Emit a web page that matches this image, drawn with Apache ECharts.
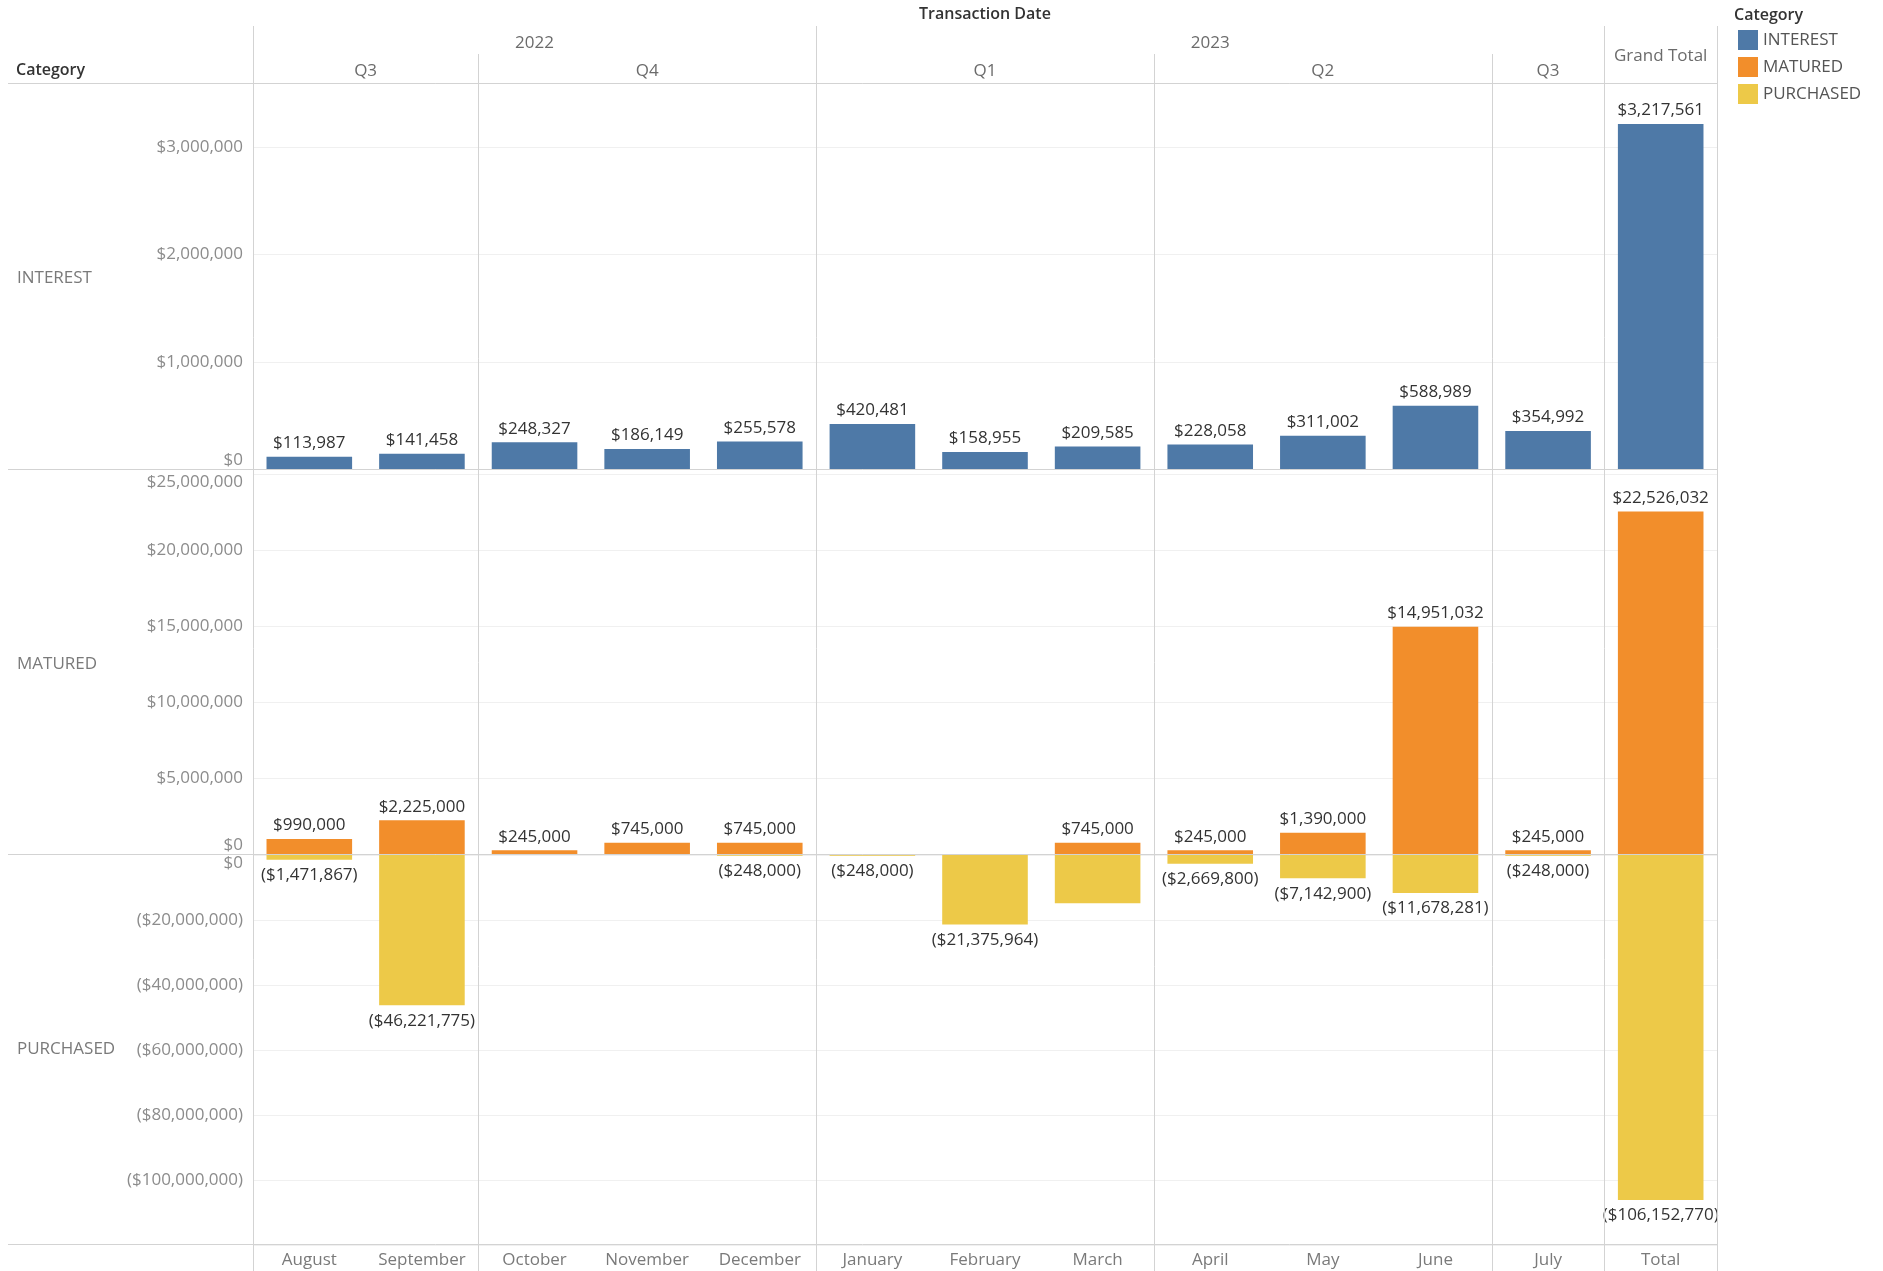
<!DOCTYPE html>
<html><head><meta charset="utf-8">
<script src="https://cdn.jsdelivr.net/npm/echarts@6/dist/echarts.min.js"></script>
<style>html,body{margin:0;padding:0;background:#fff}#c{width:1883px;height:1271px}</style>
</head><body><div id="c"></div>
<script>
// ---------- data ----------
const months = ['August','September','October','November','December','January','February','March','April','May','June','July','Total'];
const yearLabels = ['2022','2023'];
const yearSpans = [5,7];
const quarterLabels = ['Q3','Q4','Q1','Q2','Q3'];
const quarterSpans = [2,3,3,3,1];
const categories = ['INTEREST','MATURED','PURCHASED'];
const interest = [113987,141458,248327,186149,255578,420481,158955,209585,228058,311002,588989,354992,3217561];
const matured = [990000,2225000,245000,745000,745000,null,null,745000,245000,1390000,14951032,245000,22526032];
const purchased = [-1471867,-46221775,null,null,-248000,-248000,-21375964,-14848183,-2669800,-7142900,-11678281,-248000,-106152770];
const purchasedUnlabeled = ['March'];

// ---------- style / layout ----------
const FONT = '"Open Sans", "Noto Sans", sans-serif';
const COLORS = ['#4e79a7','#f28e2b','#edc948'];
const PL = 253, PR = 1717, W = PR - PL;
const panes = [ {top:83, h:386}, {top:474, h:380}, {top:855, h:390} ];
const lineCol = '#d3d3d3';
const FS = 17;

function money(v){
  if (v == null) return '';
  const s = '$' + String(Math.abs(Math.round(v))).replace(/\B(?=(\d{3})+(?!\d))/g, ',');
  return v < 0 ? '(' + s + ')' : s;
}

const chart = echarts.init(document.getElementById('c'), null, {renderer:'canvas'});

const grids = panes.map(p => ({left:PL, width:W, top:p.top, height:p.h, containLabel:false}));
const xAxes = panes.map((p,i) => ({
  type:'category', gridIndex:i, data:months, boundaryGap:true,
  axisLine:{show:false}, axisTick:{show:false}, splitLine:{show:false},
  axisLabel:{show:i===2, color:'#7a7a7a', fontSize:FS, fontFamily:FONT, margin:7, interval:0}
}));
const yBase = {
  type:'value', axisLine:{show:false}, axisTick:{show:false},
  splitLine:{show:true, lineStyle:{color:'#f0f0f0', width:1}},
  axisLabel:{color:'#8c8c8c', fontSize:FS, fontFamily:FONT, margin:10, formatter:money}
};
const yAxes = [
  Object.assign({}, yBase, {gridIndex:0, min:0, max:3600000, interval:1000000,
    axisLabel:Object.assign({}, yBase.axisLabel, {showMaxLabel:false, verticalAlignMinLabel:'bottom'})}),
  Object.assign({}, yBase, {gridIndex:1, min:0, max:25000000, interval:5000000,
    axisLabel:Object.assign({}, yBase.axisLabel, {verticalAlignMinLabel:'bottom', verticalAlignMaxLabel:'top'})}),
  Object.assign({}, yBase, {gridIndex:2, min:-120000000, max:0, interval:20000000,
    axisLabel:Object.assign({}, yBase.axisLabel, {showMinLabel:false, verticalAlignMaxLabel:'top'})})
];
const labelStyle = {show:true, color:'#333', fontSize:FS, fontFamily:FONT, distance:5, formatter:p => money(p.value)};
const series = [
  {name:categories[0], type:'bar', xAxisIndex:0, yAxisIndex:0, data:interest, barWidth:'76%',
   itemStyle:{color:COLORS[0]}, label:Object.assign({}, labelStyle, {position:'top'})},
  {name:categories[1], type:'bar', xAxisIndex:1, yAxisIndex:1, data:matured, barWidth:'76%',
   itemStyle:{color:COLORS[1]}, label:Object.assign({}, labelStyle, {position:'top'})},
  {name:categories[2], type:'bar', xAxisIndex:2, yAxisIndex:2, barWidth:'76%',
   data:purchased.map((v,i) => purchasedUnlabeled.includes(months[i]) ? {value:v, label:{show:false}} : v),
   itemStyle:{color:COLORS[2]}, label:Object.assign({}, labelStyle, {position:'bottom', distance:7})}
];

chart.setOption({
  animation:false,
  textStyle:{fontFamily:FONT},
  grid:grids, xAxis:xAxes, yAxis:yAxes, series:series,
  legend:{data:categories, orient:'vertical', left:1733, top:25, itemWidth:20, itemHeight:20, itemGap:7,
    icon:'rect', selectedMode:false, textStyle:{color:'#555', fontSize:FS, fontFamily:FONT}}
});

// ---------- header, dividers, row labels (positions derived from axes) ----------
const colW = W / months.length;
function bx(i){ return chart.convertToPixel({xAxisIndex:0}, months[Math.min(i, months.length-1)]) + (i >= months.length ? colW/2 : -colW/2); }
const g = [];
function hline(y, x1, x2){ g.push({type:'line', shape:{x1:x1, y1:y, x2:x2, y2:y}, style:{stroke:lineCol, lineWidth:1}, silent:true, z:10}); }
function vline(x, y1, y2){ x = Math.round(x) + 0.5; g.push({type:'line', shape:{x1:x, y1:y1, x2:x, y2:y2}, style:{stroke:lineCol, lineWidth:1}, silent:true, z:10}); }
function text(t, x, y, opt){ g.push({type:'text', x:x, y:y, silent:true, z:11, style:Object.assign({text:t, fill:'#6b6b6b', fontSize:FS, fontFamily:FONT, align:'center', verticalAlign:'middle'}, opt||{})}); }

const yTopInt = chart.convertToPixel({yAxisIndex:0}, 3600000);
const yInt0 = chart.convertToPixel({yAxisIndex:0}, 0);
const yMat0 = chart.convertToPixel({yAxisIndex:1}, 0);
const yPur0 = chart.convertToPixel({yAxisIndex:2}, 0);
const yPurMin = chart.convertToPixel({yAxisIndex:2}, -120000000);
hline(Math.round(yTopInt)+0.5, 8, PR);
hline(Math.round(yInt0)+0.5, 8, PR);
hline(Math.round(yMat0)+0.5, 8, PR);
hline(Math.round(yPurMin)-0.5, 8, PR);

// year-level dividers
let acc = 0; const yearB = [0];
yearSpans.forEach(s => { acc += s; yearB.push(acc); });
yearB.forEach(i => vline(bx(i), 26, 1271));
vline(bx(months.length), 26, 1271);
// quarter dividers
acc = 0; const qB = [];
quarterSpans.forEach(s => { qB.push(acc); acc += s; });
qB.forEach(i => { if (!yearB.includes(i)) vline(bx(i), 54, 1271); });

text('Transaction Date', (bx(0)+bx(months.length))/2, 14, {fill:'#333', fontWeight:600, fontSize:16});
yearLabels.forEach((t,k) => text(t, (bx(yearB[k])+bx(yearB[k+1]))/2, 43));
acc = 0;
quarterLabels.forEach((t,k) => { text(t, (bx(acc)+bx(acc+quarterSpans[k]))/2, 71); acc += quarterSpans[k]; });
text('Grand Total', (bx(months.length-1)+bx(months.length))/2, 56);
text('Category', 16, 70, {fill:'#333', fontWeight:600, align:'left', fontSize:16});
text('Category', 1734, 15, {fill:'#333', fontWeight:600, align:'left', fontSize:16});
const paneMid = [(yTopInt+yInt0)/2 + 2, (yInt0+yMat0)/2 + 3, (yPur0+yPurMin)/2 - 1];
categories.forEach((c,k) => text(c, 17, paneMid[k], {align:'left', fill:'#7a7a7a'}));

chart.setOption({graphic:g});
</script></body></html>
